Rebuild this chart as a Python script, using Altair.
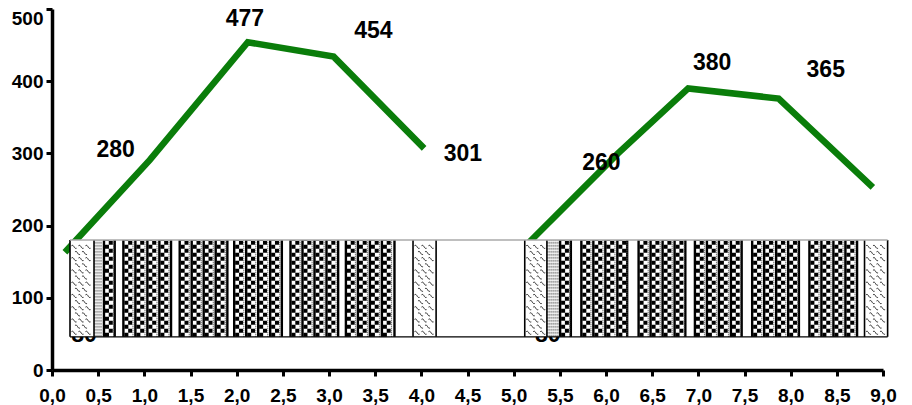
import altair as alt
import numpy as np
import pandas as pd

# Green lines
line1_x = [0.14, 1.06, 2.12, 3.05, 4.03]
line1_y = [163, 291, 454, 434, 307]
line2_x = [5.16, 6.13, 6.89, 7.87, 8.89]
line2_y = [176, 300, 390, 376, 253]

# Data labels (text, anchor)
label_text = ["280", "477", "454", "301", "260", "380", "365"]
label_x = [0.69, 2.09, 3.48, 4.45, 5.95, 7.15, 8.38]
label_y = [305, 486, 469, 299, 287, 425, 415]

# Labels hidden behind the bars
hidden_text = ["80", "80"]
hidden_x = [0.347, 5.37]
hidden_y = [48, 48]

# Bar extents
bar_bottom = 46
bar_top = 180
frame = (0.195, 9.05)
wave_bands = [(0.195, 0.455), (3.91, 4.16), (5.12, 5.36), (8.80, 9.05)]
hatch_bands = [(0.455, 0.55), (5.36, 5.48)]
check_bands = [(0.55, 0.69), (0.76, 1.30), (1.37, 1.91), (1.96, 2.50),
               (2.57, 3.11), (3.17, 3.72), (5.49, 5.63), (5.72, 6.24),
               (6.34, 6.87), (6.95, 7.48), (7.57, 8.10), (8.19, 8.73)]

x_scale = alt.Scale(domain=[0, 9], nice=False, zero=False)
y_scale = alt.Scale(domain=[0, 500], nice=False)
X = lambda f="x": alt.X(f"{f}:Q", scale=x_scale, title=None)
Y = lambda f="y": alt.Y(f"{f}:Q", scale=y_scale, title=None)

lines = pd.DataFrame({
    "x": line1_x + line2_x, "y": line1_y + line2_y,
    "s": ["a"] * len(line1_x) + ["b"] * len(line2_x),
})

line_layer = alt.Chart(lines).mark_line(color="#0a7d0a", strokeWidth=6.5, strokeJoin="miter").encode(
    x=alt.X("x:Q", scale=x_scale, title=None,
            axis=alt.Axis(values=[i * 0.5 for i in range(19)], labelExpr="replace(format(datum.value,'.1f'),'.',',')",
                          grid=False, tickSize=6, labelPadding=10, labelOverlap=False, labelFlush=False)),
    y=alt.Y("y:Q", scale=y_scale, title=None,
            axis=alt.Axis(values=[0, 100, 200, 300, 400, 500], grid=False, tickSize=6, labelPadding=3, labelFlush=False,
                          labelBaseline={"condition": {"test": "datum.value == 500", "value": "top"}, "value": "middle"})),
    detail="s:N",
)

hidden = alt.Chart(pd.DataFrame({"x": hidden_x, "y": hidden_y, "t": hidden_text})).mark_text(
    font="Liberation Sans", fontWeight="bold", fontSize=23, color="black", baseline="middle"
).encode(x=X(), y=Y(), text="t:N")

base = pd.DataFrame({"x": [frame[0]], "x2": [frame[1]], "y": [bar_bottom], "y2": [bar_top]})
bg = alt.Chart(base).mark_rect(fill="white").encode(x=X(), x2="x2", y=Y(), y2="y2")
top_rule = alt.Chart(base).mark_rule(color="#aaaaaa", strokeWidth=1.5).encode(x=X(), x2="x2", y=Y("y2"))
bottom_rule = alt.Chart(base).mark_rule(color="black", strokeWidth=1.2).encode(x=X(), x2="x2", y=Y())


def rule(df, **kw):
    return alt.Chart(df).mark_rule(**kw).encode(
        x=X(), y=alt.Y("b:Q", scale=y_scale, title=None), y2="t:Q")


def col(xs):
    return pd.DataFrame({"x": xs, "b": bar_bottom, "t": bar_top})


px = 9 / 831  # data units per pixel
solid, dash_a, dash_b, gray = [], [], [], []
for a, b in check_bands:
    for p in np.arange(a, b - 3 * px, 12 * px):
        solid.append(p + 1.2 * px)
        dash_a.append(p + 4.2 * px)
        dash_b.append(p + 8 * px)
        gray.append(p + 10.8 * px)
    solid.append(b - 1 * px)

check_layers = [
    rule(col(solid), color="black", strokeWidth=2.4),
    rule(col(dash_a), color="black", strokeWidth=4, strokeDash=[4, 4]),
    rule(col(dash_b), color="black", strokeWidth=4, strokeDash=[4, 4], strokeDashOffset=4),
    rule(col(gray), color="#555555", strokeWidth=1.2, strokeDash=[1, 1]),
]

hatch_x = [p for a, b in hatch_bands for p in np.arange(a + px, b, 2 * px)]
hatch_layer = rule(col(hatch_x), color="#808080", strokeWidth=1.2, strokeDash=[2, 1])

wave_edges = [e for band in wave_bands for e in band]
wave_edge_layer = rule(col(wave_edges), color="black", strokeWidth=1.6)
wx, wy = [], []
for a, b in wave_bands:
    for j, yy in enumerate(np.arange(bar_bottom + 5, bar_top - 2, 8.5)):
        for xx in np.arange(a + 4 * px + (j % 2) * 3.5 * px, b - 3 * px, 7 * px):
            wx.append(xx)
            wy.append(yy)
wave_layer = alt.Chart(pd.DataFrame({"x": wx, "y": wy})).mark_point(
    shape="M-1,-0.6 C-0.5,-1 -0.2,-0.6 0,-0.2 C0.2,0.2 0.5,0.6 1,0.4",
    filled=False, stroke="black", strokeWidth=0.8, size=26, opacity=1,
).encode(x=X(), y=Y())

labels = alt.Chart(pd.DataFrame({"x": label_x, "y": label_y, "t": label_text})).mark_text(
    font="Liberation Sans", fontWeight="bold", fontSize=23, color="black", baseline="middle"
).encode(x=X(), y=Y(), text="t:N")

chart = alt.layer(
    line_layer, hidden, bg, hatch_layer, *check_layers, wave_layer, wave_edge_layer,
    top_rule, bottom_rule, labels,
).properties(
    width=831, height=361,
    padding={"left": 44, "top": 1, "right": 15, "bottom": 35},
    autosize=alt.AutoSizeParams(type="none"),
).configure_view(stroke=None).configure_axis(
    domainColor="black", domainWidth=3.5, tickColor="black", tickWidth=3,
    labelFont="Liberation Sans", labelFontWeight="bold", labelFontSize=19, labelColor="black",
)

chart.save("out.html", embed_options={"renderer": "svg", "actions": False})
